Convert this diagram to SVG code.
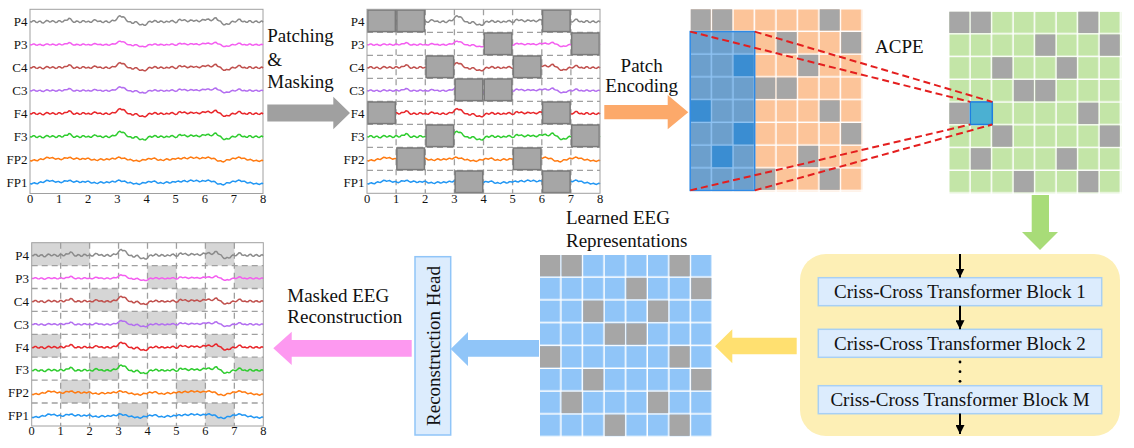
<svg xmlns="http://www.w3.org/2000/svg" width="1134" height="448" viewBox="0 0 1134 448">
<style>
text{font-family:"Liberation Serif","Times New Roman",serif;fill:#111}
.big{font-size:19px}
.mid{text-anchor:middle}
.lab{font-size:13px;text-anchor:end;font-family:"Liberation Serif","Times New Roman",serif}
.tick{font-size:12.5px;text-anchor:middle;font-family:"Liberation Serif","Times New Roman",serif}
.frame{fill:none;stroke:#a0a0a0;stroke-width:1}
.dash{stroke:#a0a0a0;stroke-width:1.3;stroke-dasharray:6 4;fill:none}
.sig{fill:none;stroke-width:1.5;vector-effect:non-scaling-stroke;stroke-linejoin:round}
.mask{fill:#a6a6a6;stroke:#7a7a7a;stroke-width:1.5}
.shade{fill:#d6d6d6}
.gc{fill:#a6a6a6}
.red{stroke:#e41e1e;stroke-width:2;stroke-dasharray:7 4;fill:none}
.blk{fill:#dcecfd;stroke:#a8d0f4;stroke-width:1.5}
.flow{stroke:#000;stroke-width:2;fill:none;marker-end:url(#ah)}
.c0{stroke:#8a8a8a}.c1{stroke:#f45cf0}.c2{stroke:#c0504d}.c3{stroke:#b36ef0}
.c4{stroke:#e8262a}.c5{stroke:#2ecc2e}.c6{stroke:#ff7a10}.c7{stroke:#2196f3}
</style>
<defs>
<marker id="ah" viewBox="0 0 10 10" refX="10" refY="5" markerWidth="4.5" markerHeight="4.5" orient="auto" markerUnits="strokeWidth"><path d="M0,0 L10,5 L0,10 z" fill="#000"/></marker>
<path id="sA" class="sig" d="M0,0 L1.5,0.3 3,-1 4.5,-1 6,0.5 7.5,0.8 9,-0.5 10.5,-0.55 12,1 13.5,1.3 15,0 16.5,-1.3 18,-1 19.5,0.3 21,0 22.5,-1.05 24,-0.5 25.5,0.8 27,0.5 28.5,-1.05 30,-1 31.5,0.3 33,0 34.5,-1.55 36,-1.5 37.5,-1.7 39,-3.5 40.5,-3.05 42,-1 43.5,0.55 45,0.5 46.5,-0.8 48,-0.5 49.5,0.8 51,0.5 52.5,-1.05 54,-1 55.5,0.3 57,0 58.5,-0.55 60,0.5 61.5,0.55 63,-1 64.5,-2.05 66,-1.5 67.5,-0.2 69,-0.5 70.5,-0.8 72,0.5 73.5,0.8 75,-0.5 76.5,-0.8 78,0.5 79.5,0.8 81,-0.5 82.5,-1.55 84,-1 85.5,-1.2 87,-3 88.5,-5.3 90,-6 91.5,-4.7 93,-5 94.5,-4.3 96,-2 97.5,-0.2 99,0 100.5,-0.05 102,1.5 103.5,1.55 105,0 106.5,-0.05 108,1.5 109.5,3.05 111,3 112.5,2.45 114,3.5 115.5,3.55 117,2 118.5,-0.05 120,-0.5 121.5,0.55 123,0 124.5,-1.3 126,-1 127.5,0.55 129,0.5 130.5,-0.8 132,-0.5 133.5,0.8 135,0.5 136.5,-0.55 138,0 139.5,0.3 141,-1 142.5,-1.3 144,0 145.5,1.05 147,0.5 148.5,-1.8 150,-2.5 151.5,-1.2 153,-1.5 154.5,-2.05 156,-1 157.5,0.05 159,-0.5 160.5,-1.8 162,-1.5 163.5,-0.45 165,-1 166.5,-1.55 168,-0.5 169.5,0.05 171,-1 172.5,-2.3 174,-2 175.5,-1.45 177,-2.5 178.5,-2.8 180,-1.5 181.5,-0.95 183,-2 184.5,-3.8 186,-4 187.5,-1.7 189,-1 190.5,-0.55 192,1.5 193.5,3.05 195,3 196.5,1.95 198,2.5 199.5,2.3 201,0.5 202.5,-0.55 204,0 205.5,0.3 207,-1 208.5,-2.55 210,-2.5 211.5,-0.45 213,0 214.5,-0.55 216,0.5 217.5,0.55 219,-1 220.5,-1.05 222,0.5 223.5,0.8 225,-0.5 226.5,-0.8 228,0.5 229.5,0.8 231,-0.5 232,-0.8 233,0.5"/>
<path id="sB" class="sig" d="M0,1 L1.5,1.45 3,0.5 4.5,0.05 6,1 7.5,1.2 9,0 10.5,-0.95 12,-0.5 13.5,-0.3 15,-1.5 16.5,-2.7 18,-2.5 19.5,-1.55 21,-2 22.5,-2.45 24,-1.5 25.5,-0.55 27,-1 28.5,-1.45 30,-0.5 31.5,-0.05 33,-1 34.5,-2.2 36,-2 37.5,-1.55 39,-2.5 40.5,-2.7 42,-1.5 43.5,-0.55 45,-1 46.5,-1.95 48,-1.5 49.5,-0.3 51,-0.5 52.5,-1.45 54,-1 55.5,-0.55 57,-1.5 58.5,-1.7 60,-0.5 61.5,0.45 63,0 64.5,-0.45 66,0.5 67.5,0.95 69,0 70.5,-0.95 72,-0.5 73.5,0.45 75,0 76.5,-0.95 78,-0.5 79.5,-0.05 81,-1 82.5,-1.7 84,-1 85.5,-0.8 87,-2 88.5,-2.95 90,-2.5 91.5,-1.3 93,-1.5 94.5,-1.95 96,-1 97.5,0.2 99,0 100.5,-0.45 102,0.5 103.5,1.45 105,1 106.5,0.55 108,1.5 109.5,1.95 111,1 112.5,-0.2 114,0 115.5,0.45 117,-0.5 118.5,-1.45 120,-1 121.5,-0.55 123,-1.5 124.5,-1.95 126,-1 127.5,0.45 129,0.5 130.5,-0.2 132,0.5 133.5,0.95 135,0 136.5,-0.95 138,-0.5 139.5,0.45 141,0 142.5,-1.2 144,-1 145.5,-0.55 147,-1.5 148.5,-1.95 150,-1 151.5,-0.8 153,-2 154.5,-2.45 156,-1.5 157.5,-1.05 159,-2 160.5,-2.95 162,-2.5 163.5,-1.55 165,-2 166.5,-2.7 168,-2 169.5,-1.05 171,-1.5 172.5,-2.45 174,-2 175.5,-1.55 177,-2.5 178.5,-2.95 180,-2 181.5,-1.05 183,-1.5 184.5,-1.45 186,0 187.5,1.45 189,1.5 190.5,1.05 192,2 193.5,2.45 195,1.5 196.5,0.05 198,0 199.5,0.45 201,-0.5 202.5,-1.7 204,-1.5 205.5,-1.05 207,-2 208.5,-2.95 210,-2.5 211.5,-1.3 213,-1.5 214.5,-1.7 216,-0.5 217.5,0.45 219,0 220.5,-0.45 222,0.5 223.5,1.45 225,1 226.5,0.55 228,1.5 229.5,1.95 231,1 232,0.55 233,1.5"/>
<g id="sigs">
<use href="#sA" class="c0" transform="translate(0,0)"/>
<use href="#sA" class="c1" transform="translate(0,23) scale(1,0.6)"/>
<use href="#sA" class="c2" transform="translate(0,46) scale(1,0.85)"/>
<use href="#sA" class="c3" transform="translate(0,69) scale(1,0.65)"/>
<use href="#sA" class="c4" transform="translate(0,92) scale(1,0.85)"/>
<use href="#sA" class="c5" transform="translate(0,115) scale(1,0.9)"/>
<use href="#sB" class="c6" transform="translate(0,138) scale(1,0.9)"/>
<use href="#sB" class="c7" transform="translate(0,161) scale(1,0.9)"/>
</g>
<g id="chlabels" font-family="Liberation Serif, Times New Roman, serif" font-size="13">
<text class="lab" y="4.5">P4</text><text class="lab" y="27.5">P3</text><text class="lab" y="50.5">C4</text><text class="lab" y="73.5">C3</text>
<text class="lab" y="96.5">F4</text><text class="lab" y="119.5">F3</text><text class="lab" y="142.5">FP2</text><text class="lab" y="165.5">FP1</text>
</g>
<g id="ticks" font-family="Liberation Serif, Times New Roman, serif" font-size="12.5">
<text class="tick" x="0">0</text><text class="tick" x="29.1">1</text><text class="tick" x="58.2">2</text><text class="tick" x="87.4">3</text><text class="tick" x="116.5">4</text><text class="tick" x="145.6">5</text><text class="tick" x="174.8">6</text><text class="tick" x="203.9">7</text><text class="tick" x="233">8</text>
</g>
<pattern id="pOr" x="690.7" y="9.3" width="21.5" height="22.75" patternUnits="userSpaceOnUse"><rect width="20" height="21.3" fill="#fcc499"/></pattern>
<pattern id="pGr" x="949.3" y="11.7" width="21.5" height="22.75" patternUnits="userSpaceOnUse"><rect width="20" height="21.3" fill="#c3e5a7"/></pattern>
<pattern id="pBl" x="540" y="255" width="21.6" height="22.8" patternUnits="userSpaceOnUse"><rect width="20.1" height="21.3" fill="#90c5f8"/></pattern>
<pattern id="pOv" x="690.7" y="9.3" width="21.5" height="22.75" patternUnits="userSpaceOnUse"><rect width="20" height="21.3" fill="#6c9fcc"/></pattern>
</defs>

<!-- Raw EEG plot -->
<g id="raw-eeg">
<rect class="frame" x="30" y="9.3" width="233" height="184.2"/>
<use href="#sigs" transform="translate(30,21.7)"/>
<use href="#chlabels" transform="translate(27.5,21.7)"/>
<use href="#ticks" transform="translate(30,203)"/>
</g>

<!-- Masked EEG plot -->
<g id="masked-eeg">
<path class="dash" d="M396.1,9.3V193.3M425.3,9.3V193.3M454.4,9.3V193.3M483.5,9.3V193.3M512.6,9.3V193.3M541.8,9.3V193.3M570.9,9.3V193.3M367,32.3H600M367,55.3H600M367,78.3H600M367,101.3H600M367,124.3H600M367,147.3H600M367,170.3H600"/>
<use href="#sigs" transform="translate(367,21.7)"/>
<rect class="mask" x="367.75" y="10" width="27.6" height="21.6"/>
<rect class="mask" x="396.85" y="10" width="27.6" height="21.6"/>
<rect class="mask" x="542.55" y="10" width="27.6" height="21.6"/>
<rect class="mask" x="484.25" y="33" width="27.6" height="21.6"/>
<rect class="mask" x="571.65" y="33" width="27.6" height="21.6"/>
<rect class="mask" x="426.05" y="56" width="27.6" height="21.6"/>
<rect class="mask" x="513.35" y="56" width="27.6" height="21.6"/>
<rect class="mask" x="455.15" y="79" width="27.6" height="21.6"/>
<rect class="mask" x="484.25" y="79" width="27.6" height="21.6"/>
<rect class="mask" x="367.75" y="102" width="27.6" height="21.6"/>
<rect class="mask" x="542.55" y="102" width="27.6" height="21.6"/>
<rect class="mask" x="426.05" y="125" width="27.6" height="21.6"/>
<rect class="mask" x="571.65" y="125" width="27.6" height="21.6"/>
<rect class="mask" x="396.85" y="148" width="27.6" height="21.6"/>
<rect class="mask" x="513.35" y="148" width="27.6" height="21.6"/>
<rect class="mask" x="455.15" y="171" width="27.6" height="21.6"/>
<rect class="mask" x="542.55" y="171" width="27.6" height="21.6"/>
<rect class="frame" x="367" y="9.3" width="233" height="184"/>
<use href="#chlabels" transform="translate(364.5,21.7)"/>
<use href="#ticks" transform="translate(367,203)"/>
</g>

<!-- Reconstructed EEG plot -->
<g id="recon-eeg">
<g class="shade">
<rect x="31.7" y="242.7" width="28.95" height="22.9"/><rect x="60.65" y="242.7" width="28.95" height="22.9"/><rect x="205.4" y="242.7" width="28.95" height="22.9"/>
<rect x="147.5" y="265.6" width="28.95" height="22.9"/><rect x="234.35" y="265.6" width="28.95" height="22.9"/>
<rect x="89.6" y="288.5" width="28.95" height="22.9"/><rect x="176.45" y="288.5" width="28.95" height="22.9"/>
<rect x="118.55" y="311.4" width="28.95" height="22.9"/><rect x="147.5" y="311.4" width="28.95" height="22.9"/>
<rect x="31.7" y="334.3" width="28.95" height="22.9"/><rect x="205.4" y="334.3" width="28.95" height="22.9"/>
<rect x="89.6" y="357.2" width="28.95" height="22.9"/><rect x="234.35" y="357.2" width="28.95" height="22.9"/>
<rect x="60.65" y="380.1" width="28.95" height="22.9"/><rect x="176.45" y="380.1" width="28.95" height="22.9"/>
<rect x="118.55" y="403" width="28.95" height="22.9"/><rect x="205.4" y="403" width="28.95" height="22.9"/>
</g>
<path class="dash" d="M60.65,242.7V426M89.6,242.7V426M118.55,242.7V426M147.5,242.7V426M176.45,242.7V426M205.4,242.7V426M234.35,242.7V426M31.7,265.6H263.3M31.7,288.5H263.3M31.7,311.4H263.3M31.7,334.3H263.3M31.7,357.2H263.3M31.7,380.1H263.3M31.7,403H263.3"/>
<use href="#sigs" transform="translate(31.7,255.4) scale(0.994,1)"/>
<rect class="frame" x="31.7" y="242.7" width="231.6" height="183.3"/>
<use href="#chlabels" transform="translate(29,255.4) scale(1,0.996)"/>
<use href="#ticks" transform="translate(31.7,435) scale(0.994,1)"/>
</g>

<!-- Patch embeddings grid (orange) with ACPE window -->
<g id="patch-grid">
<rect x="690.7" y="9.3" width="172" height="182" fill="url(#pOr)"/>
<g class="gc">
<rect x="690.7" y="9.3" width="20" height="21.3"/><rect x="712.2" y="9.3" width="20" height="21.3"/><rect x="819.7" y="9.3" width="20" height="21.3"/>
<rect x="776.7" y="32.05" width="20" height="21.3"/><rect x="841.2" y="32.05" width="20" height="21.3"/>
<rect x="798.2" y="54.8" width="20" height="21.3"/>
<rect x="755.2" y="77.55" width="20" height="21.3"/><rect x="776.7" y="77.55" width="20" height="21.3"/>
<rect x="819.7" y="100.3" width="20" height="21.3"/>
<rect x="841.2" y="123.05" width="20" height="21.3"/>
<rect x="798.2" y="145.8" width="20" height="21.3"/>
<rect x="755.2" y="168.55" width="20" height="21.3"/><rect x="819.7" y="168.55" width="20" height="21.3"/>
</g>
<rect x="690.2" y="31.6" width="64.5" height="158.8" fill="#8ec2f2"/>
<rect x="690.7" y="32.05" width="63.5" height="158" fill="url(#pOv)"/>
<g fill="#3a8dd2">
<rect x="733.7" y="54.8" width="20" height="21.3"/>
<rect x="690.7" y="100.3" width="20" height="21.3"/>
<rect x="733.7" y="123.05" width="20" height="21.3"/>
<rect x="712.2" y="145.8" width="20" height="21.3"/>
</g>
<rect x="690.2" y="31.6" width="64.5" height="158.8" fill="none" stroke="#2e8ae6" stroke-width="1.5"/>
</g>

<!-- Position-encoded grid (green) -->
<g id="acpe-grid">
<rect x="949.3" y="11.7" width="172" height="182" fill="url(#pGr)"/>
<g class="gc">
<rect x="949.3" y="11.7" width="20" height="21.3"/><rect x="970.8" y="11.7" width="20" height="21.3"/><rect x="1078.3" y="11.7" width="20" height="21.3"/>
<rect x="1035.3" y="34.45" width="20" height="21.3"/><rect x="1099.8" y="34.45" width="20" height="21.3"/>
<rect x="992.3" y="57.2" width="20" height="21.3"/><rect x="1056.8" y="57.2" width="20" height="21.3"/>
<rect x="1013.8" y="79.95" width="20" height="21.3"/><rect x="1035.3" y="79.95" width="20" height="21.3"/>
<rect x="949.3" y="102.7" width="20" height="21.3"/><rect x="1078.3" y="102.7" width="20" height="21.3"/>
<rect x="992.3" y="125.45" width="20" height="21.3"/><rect x="1099.8" y="125.45" width="20" height="21.3"/>
<rect x="970.8" y="148.2" width="20" height="21.3"/><rect x="1056.8" y="148.2" width="20" height="21.3"/>
<rect x="1013.8" y="170.95" width="20" height="21.3"/><rect x="1078.3" y="170.95" width="20" height="21.3"/>
</g>
<rect x="970.3" y="101.9" width="22" height="22.6" fill="#4bb0d2" stroke="#1e7fe0" stroke-width="1.5"/>
</g>
<text id="acpe-label" class="big" x="875" y="52.7">ACPE</text>

<!-- Learned representations grid (blue) -->
<g id="repr-grid">
<rect x="540" y="255" width="172" height="182" fill="url(#pBl)"/>
<g class="gc">
<rect x="540" y="255" width="20.1" height="21.3"/><rect x="561.6" y="255" width="20.1" height="21.3"/><rect x="669.6" y="255" width="20.1" height="21.3"/>
<rect x="626.4" y="277.8" width="20.1" height="21.3"/><rect x="691.2" y="277.8" width="20.1" height="21.3"/>
<rect x="583.2" y="300.6" width="20.1" height="21.3"/><rect x="648" y="300.6" width="20.1" height="21.3"/>
<rect x="604.8" y="323.4" width="20.1" height="21.3"/><rect x="626.4" y="323.4" width="20.1" height="21.3"/>
<rect x="540" y="346.2" width="20.1" height="21.3"/><rect x="669.6" y="346.2" width="20.1" height="21.3"/>
<rect x="583.2" y="369" width="20.1" height="21.3"/><rect x="691.2" y="369" width="20.1" height="21.3"/>
<rect x="561.6" y="391.8" width="20.1" height="21.3"/><rect x="648" y="391.8" width="20.1" height="21.3"/>
<rect x="604.8" y="414.6" width="20.1" height="21.3"/><rect x="669.6" y="414.6" width="20.1" height="21.3"/>
</g>
<text class="big" x="566" y="224">Learned EEG</text>
<text class="big" x="566" y="247.3">Representations</text>
</g>

<!-- Transformer encoder -->
<g id="encoder">
<rect x="800" y="254" width="320" height="182" rx="26" fill="#fdefb5"/>
<rect class="blk" x="818.3" y="277.7" width="283.4" height="28"/>
<text class="big mid" x="960" y="298.2">Criss-Cross Transformer Block 1</text>
<rect class="blk" x="818.3" y="329.3" width="283.4" height="28"/>
<text class="big mid" x="960" y="349.8">Criss-Cross Transformer Block 2</text>
<rect class="blk" x="818.3" y="385.7" width="283.4" height="28"/>
<text class="big mid" x="960" y="406.2">Criss-Cross Transformer Block M</text>
<circle cx="960" cy="362" r="1.4" fill="#000"/><circle cx="960" cy="371.7" r="1.4" fill="#000"/><circle cx="960" cy="381.3" r="1.4" fill="#000"/>
</g>

<!-- Reconstruction head -->
<g id="recon-head">
<rect x="415" y="256.7" width="35.7" height="178.3" fill="#dcecfd" stroke="#90c5f8" stroke-width="1.5"/>
<text class="big mid" transform="translate(439.5,346) rotate(-90)">Reconstruction Head</text>
</g>

<!-- Connectors -->
<g id="connectors">
<polygon points="267.3,104.4 333.3,104.4 333.3,96.7 350,113 333.3,129.3 333.3,121.6 267.3,121.6" fill="#a0a0a0"/>
<text class="big" x="267.3" y="42.3">Patching</text>
<text class="big" x="267.3" y="65.7">&amp;</text>
<text class="big" x="267.3" y="87.7">Masking</text>
<polygon points="604.3,105 667.7,105 667.7,95 688.3,112.2 667.7,129.3 667.7,119.3 604.3,119.3" fill="#fca96a"/>
<text class="big mid" x="641.7" y="71.7">Patch</text>
<text class="big mid" x="641.7" y="91.7">Encoding</text>
<line class="red" x1="690.2" y1="31.6" x2="970.3" y2="101.9"/>
<line class="red" x1="754.7" y1="31.6" x2="992.3" y2="101.9"/>
<line class="red" x1="690.2" y1="190.4" x2="970.3" y2="124.5"/>
<line class="red" x1="754.7" y1="190.4" x2="992.3" y2="124.5"/>
<polygon points="1031.7,195 1049,195 1049,232 1058,232 1040,250 1022,232 1031.7,232" fill="#a8dc78"/>
<line class="flow" x1="960" y1="254" x2="960" y2="277.5"/>
<line class="flow" x1="960" y1="305.7" x2="960" y2="329.2"/>
<line class="flow" x1="960" y1="413.4" x2="960" y2="434"/>
<polygon points="796.7,337.7 732.3,337.7 732.3,329.3 715,346.3 732.3,363.3 732.3,354.3 796.7,354.3" fill="#ffe070"/>
<polygon points="539,340 468,340 468,332 450.7,349 468,366 468,356.7 539,356.7" fill="#90c5f8"/>
<polygon points="411.7,340 291.7,340 291.7,331.7 273.3,348.3 291.7,365 291.7,356.7 411.7,356.7" fill="#fd99f0"/>
<text class="big" x="287.3" y="301.7">Masked EEG</text>
<text class="big" x="287.3" y="323.3">Reconstruction</text>
</g>
</svg>
